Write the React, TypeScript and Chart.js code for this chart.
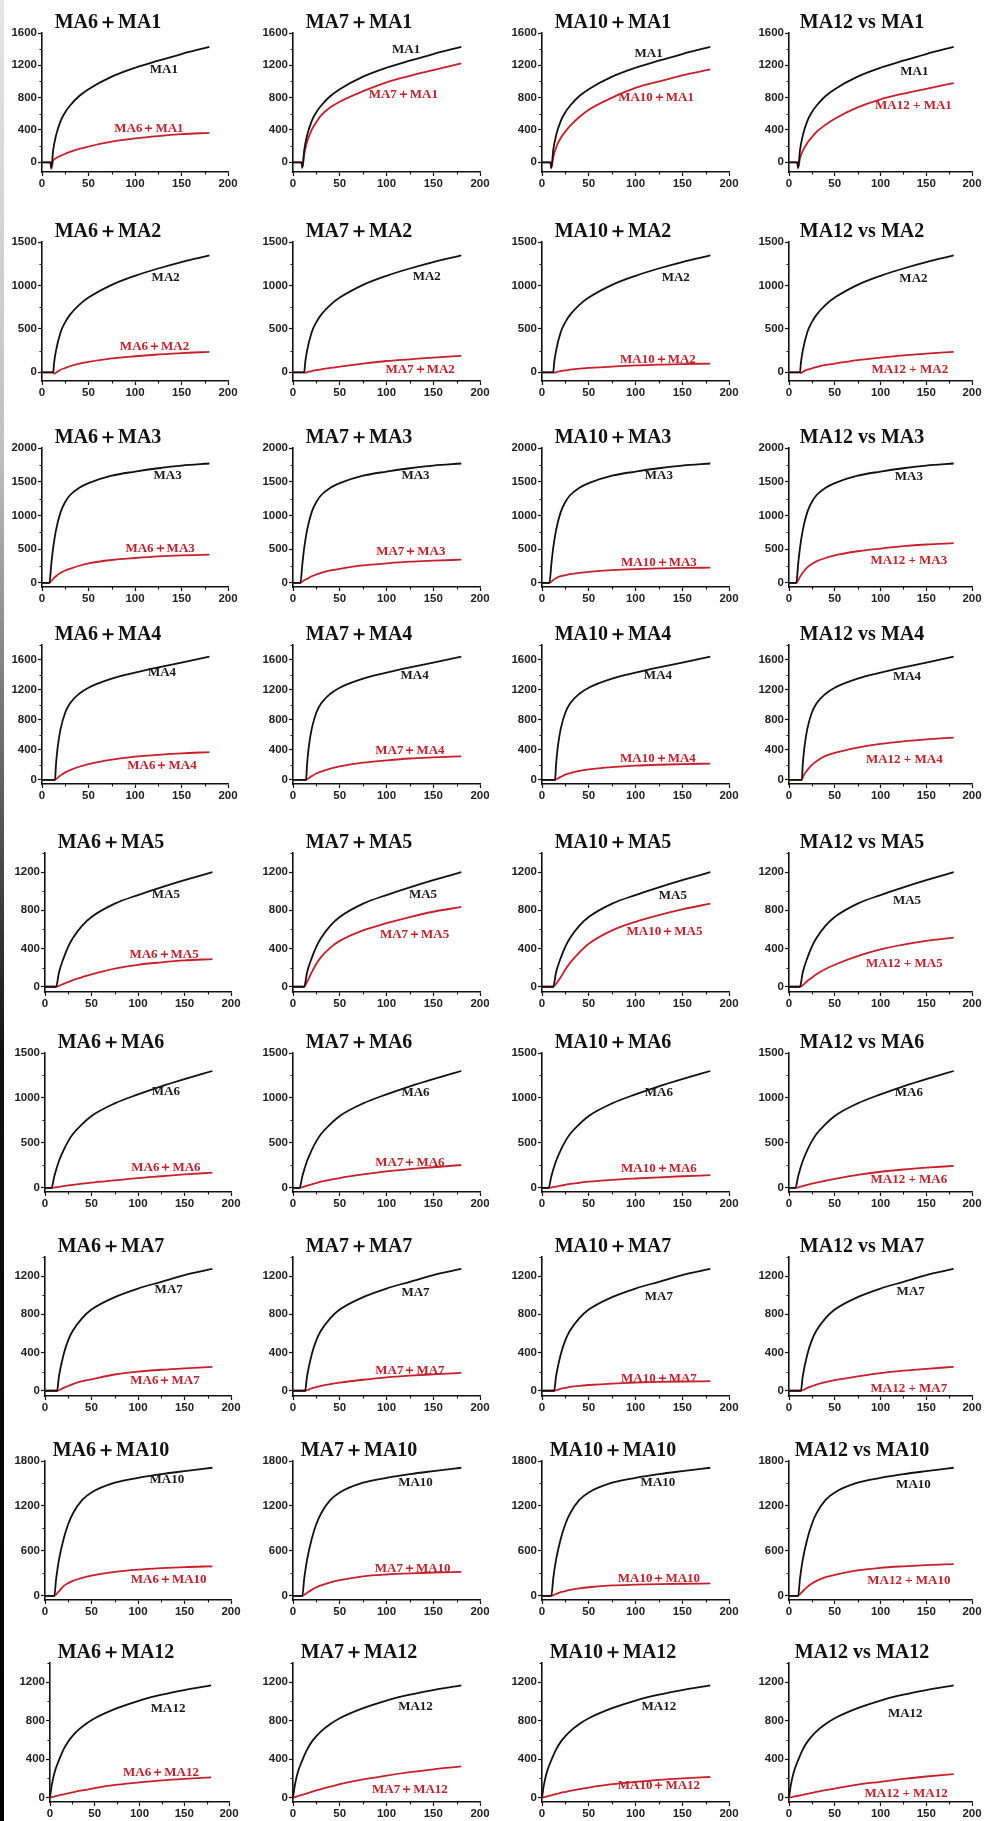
import React, { useEffect, useRef } from 'react';
import Chart from 'chart.js/auto';

// ---------- names ----------
const ROW_NAMES = ['MA1', 'MA2', 'MA3', 'MA4', 'MA5', 'MA6', 'MA7', 'MA10', 'MA12'];
const COL_NAMES = ['MA6', 'MA7', 'MA10', 'MA12'];

// ---------- x grids (time) per row ----------
const X_R1 = [0, 5, 9, 10, 12, 15, 20, 25, 30, 40, 50, 75, 100, 125, 150, 180];
const X_R2 = [0, 5, 10, 12, 13, 15, 20, 25, 30, 40, 50, 75, 100, 125, 150, 180];
const X_R3 = [0, 5, 8, 10, 12, 15, 20, 25, 30, 40, 50, 75, 100, 125, 150, 180];
const X_R4 = [0, 5, 10, 13, 14, 15, 17, 20, 25, 30, 40, 50, 75, 100, 125, 150, 180];
const X_R5 = [0, 5, 10, 12, 15, 20, 25, 30, 40, 50, 75, 100, 125, 150, 180];
const X_R6 = [0, 5, 7, 10, 15, 20, 25, 30, 40, 50, 75, 100, 125, 150, 180];
const X_R7 = [0, 5, 10, 13, 15, 20, 25, 30, 40, 50, 75, 100, 125, 150, 180];
const X_R8 = [0, 5, 10, 12, 15, 20, 25, 30, 40, 50, 75, 100, 125, 150, 180];
const X_R9 = [0, 2, 5, 10, 15, 20, 25, 30, 40, 50, 75, 100, 125, 150, 180];

// ---------- single-strain curves (black) ----------
const BLACK_R1 = [0, 0, 0, -70, 150, 330, 510, 620, 700, 820, 905, 1060, 1170, 1258, 1340, 1428];
const BLACK_R2 = [0, 0, 0, 0, 108, 246, 461, 578, 661, 776, 860, 1007, 1111, 1195, 1268, 1345];
const BLACK_R3 = [0, 0, 0, 280, 520, 780, 1050, 1200, 1300, 1410, 1480, 1590, 1650, 1700, 1740, 1770];
const BLACK_R4 = [0, 0, 0, 0, 0, 200, 450, 680, 900, 1020, 1150, 1230, 1350, 1430, 1500, 1565, 1645];
const BLACK_R5 = [0, 0, 0, 0, 150, 300, 420, 510, 640, 730, 870, 960, 1040, 1115, 1200];
const BLACK_R6 = [0, 0, 0, 130, 300, 420, 520, 600, 710, 800, 940, 1040, 1130, 1210, 1300];
const BLACK_R7 = [0, 0, 0, 0, 150, 380, 530, 630, 760, 850, 980, 1070, 1140, 1210, 1275];
const BLACK_R8 = [0, 0, 0, 230, 480, 760, 960, 1100, 1280, 1380, 1510, 1575, 1625, 1665, 1710];
const BLACK_R9 = [0, 130, 260, 390, 500, 580, 640, 690, 765, 825, 930, 1010, 1070, 1118, 1168];

// ---------- combination curves (red), one list per column ----------
const RED_R1 = [
  [0, 0, 0, -80, 20, 50, 80, 105, 128, 165, 195, 255, 295, 325, 348, 365],
  [0, 0, 0, -60, 100, 250, 400, 500, 580, 680, 750, 880, 990, 1070, 1140, 1225],
  [0, 0, 0, -70, 60, 180, 300, 380, 450, 560, 650, 800, 920, 1000, 1075, 1150],
  [0, 0, 0, -70, 50, 140, 240, 310, 375, 465, 540, 680, 780, 850, 910, 980],
];
const RED_R2 = [
  [0, 0, 0, 0, -15, -5, 30, 50, 70, 100, 120, 160, 185, 205, 222, 235],
  [0, 0, 0, 0, -5, 0, 15, 25, 35, 50, 65, 100, 130, 150, 170, 190],
  [0, 0, 0, 0, -5, 0, 15, 22, 30, 42, 50, 65, 80, 88, 95, 100],
  [0, 0, 0, 0, -10, 5, 30, 45, 60, 85, 100, 140, 170, 195, 215, 235],
];
const RED_R3 = [
  [0, 0, 0, 30, 60, 100, 150, 185, 210, 255, 290, 340, 370, 395, 410, 420],
  [0, 0, 0, 20, 40, 60, 100, 125, 150, 185, 210, 260, 290, 315, 330, 345],
  [0, 0, 0, 20, 45, 70, 100, 115, 130, 150, 165, 190, 205, 215, 222, 227],
  [0, 0, 0, 40, 90, 150, 230, 280, 320, 370, 410, 470, 510, 545, 570, 590],
];
const RED_R4 = [
  [0, 0, 0, 0, 0, 10, 30, 60, 100, 130, 175, 210, 270, 310, 335, 355, 370],
  [0, 0, 0, 0, 0, 8, 25, 50, 85, 110, 150, 180, 230, 260, 285, 300, 315],
  [0, 0, 0, 0, 0, 8, 20, 40, 70, 90, 120, 140, 170, 190, 202, 210, 218],
  [0, 0, 0, 0, 0, 30, 80, 130, 200, 250, 320, 360, 430, 480, 515, 540, 565],
];
const RED_R5 = [
  [0, 0, 0, 0, 10, 30, 50, 70, 100, 130, 190, 230, 255, 275, 290],
  [0, 0, 0, 0, 50, 150, 240, 310, 410, 480, 590, 665, 730, 785, 835],
  [0, 0, 0, 0, 30, 100, 180, 250, 360, 450, 590, 680, 750, 810, 870],
  [0, 0, 0, 0, 15, 60, 95, 130, 185, 230, 320, 390, 440, 480, 515],
];
const RED_R6 = [
  [0, 0, 0, 5, 12, 20, 28, 35, 48, 60, 85, 110, 130, 150, 170],
  [0, 0, 0, 8, 25, 40, 55, 70, 90, 110, 150, 185, 210, 230, 255],
  [0, 0, 0, 5, 15, 25, 35, 45, 58, 70, 90, 105, 118, 130, 142],
  [0, 0, 0, 7, 20, 35, 48, 60, 80, 100, 145, 180, 205, 225, 245],
];
const RED_R7 = [
  [0, 0, 0, 0, 5, 30, 50, 70, 100, 120, 170, 200, 220, 235, 250],
  [0, 0, 0, 0, 5, 25, 38, 50, 70, 85, 115, 140, 158, 172, 187],
  [0, 0, 0, 0, 5, 20, 30, 40, 52, 60, 75, 85, 92, 97, 100],
  [0, 0, 0, 0, 5, 30, 48, 65, 90, 110, 150, 185, 210, 230, 250],
];
const RED_R8 = [
  [0, 0, 0, 20, 60, 130, 170, 200, 240, 270, 320, 350, 370, 385, 395],
  [0, 0, 0, 15, 40, 80, 115, 140, 180, 210, 260, 285, 300, 310, 320],
  [0, 0, 0, 10, 25, 50, 65, 80, 100, 115, 140, 150, 157, 162, 166],
  [0, 0, 0, 25, 60, 120, 165, 200, 250, 280, 340, 375, 395, 410, 425],
];
const RED_R9 = [
  [0, 5, 12, 25, 35, 45, 55, 65, 82, 100, 135, 160, 180, 195, 210],
  [0, 6, 15, 30, 45, 60, 75, 90, 115, 140, 190, 230, 265, 295, 325],
  [0, 5, 12, 25, 38, 50, 60, 70, 88, 105, 140, 165, 185, 200, 215],
  [0, 4, 10, 20, 30, 40, 50, 60, 78, 95, 135, 165, 195, 220, 245],
];

// ---------- axis ticks ----------
const X_TICKS = [0, 50, 100, 150, 200];
const X_MINOR = [25, 75, 125, 175];
const Y_MIN = [-120, -100, -60, -55, -55, -45, -55, -55, -45];
const Y_MAX = [1600, 1500, 2000, 1800, 1400, 1500, 1400, 1800, 1400];
const Y_TICKS_R1 = [0, 400, 800, 1200, 1600];
const Y_TICKS_R2 = [0, 500, 1000, 1500];
const Y_TICKS_R3 = [0, 500, 1000, 1500, 2000];
const Y_TICKS_R4 = [0, 400, 800, 1200, 1600];
const Y_TICKS_R5 = [0, 400, 800, 1200];
const Y_TICKS_R6 = [0, 500, 1000, 1500];
const Y_TICKS_R7 = [0, 400, 800, 1200];
const Y_TICKS_R8 = [0, 600, 1200, 1800];
const Y_TICKS_R9 = [0, 400, 800, 1200];

// ---------- curve label anchor points (data coords) [row][col] = [x, y] ----------
const LABEL_BLACK = [
  [[131, 1150], [121, 1400], [114, 1339], [137, 1120]],
  [[133, 1094], [143, 1104], [143, 1090], [136, 1077]],
  [[135, 1585], [131, 1587], [125, 1587], [131, 1570]],
  [[129, 1430], [130, 1388], [124, 1388], [129, 1373]],
  [[130, 965], [139, 967], [140, 958], [129, 906]],
  [[130, 1074], [131, 1064], [125, 1064], [131, 1064]],
  [[133, 1062], [131, 1026], [125, 988], [133, 1038]],
  [[131, 1547], [131, 1512], [124, 1512], [136, 1481]],
  [[132, 926], [131, 943], [125, 943], [127, 877]],
];
const LABEL_RED = [
  [[115, 420], [118, 843], [122, 800], [136, 700]],
  [[121, 292], [136, 32], [124, 150], [132, 32]],
  [[127, 514], [126, 468], [125, 296], [131, 331]],
  [[129, 188], [125, 390], [124, 281], [126, 265]],
  [[128, 337], [130, 550], [131, 574], [126, 246]],
  [[130, 228], [125, 282], [125, 219], [131, 91]],
  [[129, 106], [125, 212], [125, 126], [131, 27]],
  [[133, 213], [128, 367], [125, 228], [131, 197]],
  [[124, 264], [125, 82], [125, 130], [128, 42]],
];

const X_GRIDS = [X_R1, X_R2, X_R3, X_R4, X_R5, X_R6, X_R7, X_R8, X_R9];
const BLACKS = [BLACK_R1, BLACK_R2, BLACK_R3, BLACK_R4, BLACK_R5, BLACK_R6, BLACK_R7, BLACK_R8, BLACK_R9];
const REDS = [RED_R1, RED_R2, RED_R3, RED_R4, RED_R5, RED_R6, RED_R7, RED_R8, RED_R9];
const Y_TICKS = [Y_TICKS_R1, Y_TICKS_R2, Y_TICKS_R3, Y_TICKS_R4, Y_TICKS_R5, Y_TICKS_R6, Y_TICKS_R7, Y_TICKS_R8, Y_TICKS_R9];

// ---------- layout ----------
const COL_LEFT = [42, 293, 542, 789];
const COL_WIDTH = [186, 187, 187, 183];
const COL1_DX = [0, 0, 0, 0, 3, 3, 3, 3, 8];
const COL1_DW = [0, 0, 0, 0, 0, 0, 0, 0, -7];
const ROW_TOP = [33, 242, 448, 645, 853, 1053, 1257, 1461, 1663];
const PLOT_H = 139;
const Y_AXIS_W = 40;
const X_AXIS_H = 22;
const PAD_T = 28;
const PAD_R = 16;
const TITLE_DX = [66, 66, 71, 73];

const RED = '#c8202a';
const INK = '#111';
const SANS = '"Liberation Sans", Arial, sans-serif';
const SERIF = '"Liberation Serif", "Times New Roman", serif';

function titleText(row: number, col: number) {
  return col === 3 ? `${COL_NAMES[col]} vs ${ROW_NAMES[row]}` : `${COL_NAMES[col]}＋${ROW_NAMES[row]}`;
}
function redText(row: number, col: number) {
  return col === 3 ? `${COL_NAMES[col]} + ${ROW_NAMES[row]}` : `${COL_NAMES[col]}＋${ROW_NAMES[row]}`;
}

function Panel({ row, col }: { row: number; col: number }) {
  const ref = useRef<HTMLCanvasElement>(null);
  const plotLeft = COL_LEFT[col] + (col === 0 ? COL1_DX[row] : 0);
  const plotW = COL_WIDTH[col] + (col === 0 ? COL1_DW[row] : 0);
  const plotTop = ROW_TOP[row];
  const cw = Y_AXIS_W + plotW + PAD_R;
  const ch = PAD_T + PLOT_H + X_AXIS_H;

  useEffect(() => {
    const xs = X_GRIDS[row];
    const black = BLACKS[row];
    const red = REDS[row][col];
    const yMinor: number[] = [];
    const yt = Y_TICKS[row];
    for (let i = 0; i < yt.length - 1; i++) yMinor.push((yt[i] + yt[i + 1]) / 2);
    const last = yt[yt.length - 1] + (yt[1] - yt[0]) / 2;
    if (last <= Y_MAX[row]) yMinor.push(last);

    const decor = {
      id: 'decor',
      afterDraw(chart: any) {
        const ctx = chart.ctx;
        const xs_ = chart.scales.x;
        const ys_ = chart.scales.y;
        const area = chart.chartArea;
        ctx.save();
        ctx.strokeStyle = INK;
        ctx.lineWidth = 1.1;
        ctx.beginPath();
        X_MINOR.forEach((v) => {
          const px = Math.round(xs_.getPixelForValue(v)) + 0.5;
          ctx.moveTo(px, area.bottom);
          ctx.lineTo(px, area.bottom + 2.5);
        });
        yMinor.forEach((v) => {
          const py = Math.round(ys_.getPixelForValue(v)) + 0.5;
          ctx.moveTo(area.left, py);
          ctx.lineTo(area.left - 2.5, py);
        });
        ctx.stroke();
        ctx.fillStyle = INK;
        ctx.font = `bold 20px ${SERIF}`;
        ctx.textAlign = 'center';
        ctx.textBaseline = 'alphabetic';
        ctx.fillText(titleText(row, col), area.left + TITLE_DX[col], area.top - 5);
        ctx.font = `bold 13px ${SERIF}`;
        ctx.textBaseline = 'middle';
        const lb = LABEL_BLACK[row][col];
        ctx.fillStyle = '#1a1a1a';
        ctx.fillText(ROW_NAMES[row], xs_.getPixelForValue(lb[0]), ys_.getPixelForValue(lb[1]));
        const lr = LABEL_RED[row][col];
        ctx.fillStyle = RED;
        ctx.fillText(redText(row, col), xs_.getPixelForValue(lr[0]), ys_.getPixelForValue(lr[1]));
        ctx.restore();
      },
    };

    const tickFont = { family: SANS, size: 11.5, weight: 'bold' as const };
    const chart = new Chart(ref.current as HTMLCanvasElement, {
      type: 'line',
      data: {
        datasets: [
          {
            data: xs.map((x, i) => ({ x, y: black[i] })),
            borderColor: INK,
            borderWidth: 1.8,
            pointRadius: 0,
            cubicInterpolationMode: 'monotone',
            fill: false,
          },
          {
            data: xs.map((x, i) => ({ x, y: red[i] })),
            borderColor: RED,
            borderWidth: 1.8,
            pointRadius: 0,
            cubicInterpolationMode: 'monotone',
            fill: false,
          },
        ],
      },
      options: {
        animation: false,
        responsive: false,
        maintainAspectRatio: false,
        devicePixelRatio: 1,
        events: [],
        layout: { padding: { left: 0, top: PAD_T, right: PAD_R, bottom: 0 } },
        plugins: { legend: { display: false }, tooltip: { enabled: false }, title: { display: false } },
        scales: {
          x: {
            type: 'linear',
            min: 0,
            max: 200,
            afterBuildTicks: (s: any) => {
              s.ticks = X_TICKS.map((v) => ({ value: v }));
            },
            afterFit: (s: any) => {
              s.height = X_AXIS_H;
              s.paddingLeft = 0;
              s.paddingRight = 0;
            },
            grid: { drawOnChartArea: false, drawTicks: true, tickLength: 4, tickColor: INK, tickWidth: 1.2 },
            border: { display: true, color: INK, width: 1.6 },
            ticks: { font: tickFont, color: '#222', padding: 1, maxRotation: 0, autoSkip: false, callback: (v: any) => String(v) },
          },
          y: {
            type: 'linear',
            min: Y_MIN[row],
            max: Y_MAX[row],
            afterBuildTicks: (s: any) => {
              s.ticks = Y_TICKS[row].map((v) => ({ value: v }));
            },
            afterFit: (s: any) => {
              s.width = Y_AXIS_W;
              s.paddingTop = 0;
              s.paddingBottom = 0;
            },
            grid: { drawOnChartArea: false, drawTicks: true, tickLength: 4, tickColor: INK, tickWidth: 1.2 },
            border: { display: true, color: INK, width: 1.6 },
            ticks: { font: tickFont, color: '#222', padding: 1, autoSkip: false, callback: (v: any) => String(v) },
          },
        },
      },
      plugins: [decor],
    } as any);
    return () => chart.destroy();
  }, [row, col]);

  return (
    <canvas
      ref={ref}
      width={cw}
      height={ch}
      style={{ position: 'absolute', left: plotLeft - Y_AXIS_W, top: plotTop - PAD_T, width: cw, height: ch }}
    />
  );
}

export default function App() {
  const panels: React.ReactElement[] = [];
  for (let r = 0; r < ROW_NAMES.length; r++) {
    for (let c = 0; c < COL_NAMES.length; c++) {
      panels.push(<Panel key={`${r}-${c}`} row={r} col={c} />);
    }
  }
  return (
    <div style={{ position: 'absolute', left: 0, top: 0, width: 988, height: 1821, background: '#fff', overflow: 'hidden' }}>
      <div
        style={{
          position: 'absolute',
          left: 0,
          top: 0,
          width: 4,
          height: 1821,
          background: 'linear-gradient(to bottom, #e6e6e6 0%, #c0c0c0 25%, #666 42%, #111 58%, #000 100%)',
        }}
      />
      {panels}
    </div>
  );
}
